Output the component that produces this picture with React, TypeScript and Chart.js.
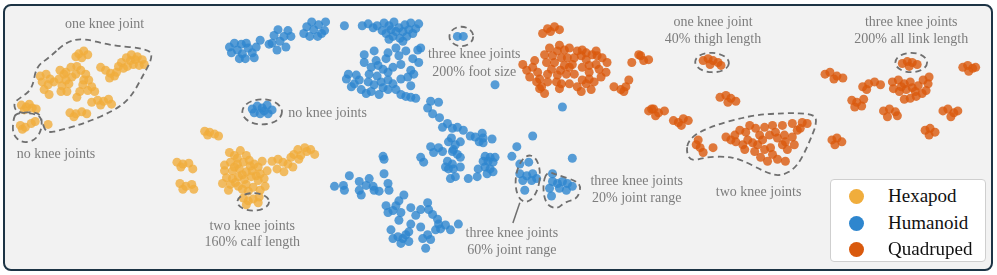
import React, { useEffect, useRef } from "react";
import { Chart, registerables } from "chart.js";

Chart.register(...registerables);

// t-SNE embedding coordinates (x: 0..997 left→right, y: 0..275 top→bottom)
const hexapod: [number, number][] = [
  [75, 51], [80, 48], [84, 52], [78, 55], [72, 54],
  [118, 60], [123, 55], [128, 52], [134, 54], [139, 57], [136, 63], [130, 62], [124, 64], [115, 64], [127, 58], [141, 62], [120, 66], [132, 57],
  [97, 65], [102, 68], [107, 71], [111, 74], [113, 70], [106, 76],
  [36, 74], [42, 72], [46, 77], [38, 80], [44, 83], [40, 88], [45, 93], [50, 80],
  [56, 68], [60, 72], [55, 77], [62, 78], [58, 84], [65, 82], [57, 90], [63, 90], [68, 75], [62, 70],
  [67, 65], [73, 64], [77, 68], [72, 72],
  [82, 72], [85, 78], [79, 83], [88, 85], [84, 89], [76, 90], [73, 96], [91, 90], [80, 78],
  [88, 101], [94, 99], [100, 100], [105, 98], [108, 103], [97, 104],
  [66, 112], [72, 113], [78, 111], [83, 113], [70, 116],
  [17, 104], [22, 106], [28, 107], [32, 108], [20, 109], [25, 103],
  [16, 125], [21, 127], [27, 123], [31, 121], [18, 129], [44, 124],
  [202, 131], [207, 132], [212, 134], [216, 136], [205, 135],
  [174, 163], [180, 165], [186, 164], [190, 170], [178, 168],
  [177, 185], [183, 188], [189, 186], [191, 191], [180, 191],
  [227, 153], [232, 156], [238, 151], [244, 156], [235, 159],
  [222, 166], [228, 163], [235, 165], [241, 163], [247, 161], [252, 165], [256, 168],
  [222, 172], [230, 172], [237, 170], [244, 173], [250, 172], [258, 175],
  [224, 179], [230, 180], [236, 178], [242, 181], [249, 178], [256, 182], [262, 180],
  [228, 186], [236, 188], [244, 186], [251, 189], [258, 192], [226, 192], [246, 193], [263, 188],
  [232, 168], [240, 176], [248, 167], [254, 177], [220, 185], [233, 184], [240, 191], [265, 172],
  [270, 162], [276, 160], [281, 163], [286, 165], [289, 158], [275, 170], [282, 173],
  [292, 155], [297, 160], [296, 150], [303, 148], [309, 150], [313, 155], [305, 152], [299, 156], [291, 168], [260, 162],
  [241, 200], [246, 203], [251, 201], [256, 205], [244, 207], [257, 199],
];

const humanoid: [number, number][] = [
  [227, 44], [232, 40], [239, 41], [244, 40], [229, 50], [235, 47], [240, 51], [246, 45], [250, 50], [252, 55], [237, 56], [243, 56], [254, 44],
  [258, 37],
  [267, 41], [272, 32], [276, 26], [278, 38], [282, 33], [286, 27], [284, 44], [275, 47], [270, 40], [289, 33],
  [302, 30], [305, 23], [310, 18], [312, 26], [317, 21], [320, 30], [323, 27], [316, 33], [324, 18], [308, 33],
  [343, 22],
  [361, 22], [367, 20], [372, 24], [383, 19], [388, 22], [393, 18], [398, 24], [404, 21], [410, 19], [415, 25],
  [385, 30], [392, 33], [399, 35], [406, 33], [412, 30], [381, 27], [395, 28],
  [376, 22], [390, 26], [402, 28], [408, 26], [418, 20], [388, 36], [402, 38],
  [373, 48], [387, 50], [398, 53], [417, 47], [420, 45], [363, 60], [370, 65], [377, 63], [382, 67], [387, 70],
  [392, 65], [400, 62], [410, 68], [413, 72], [347, 72], [355, 73], [345, 77], [353, 82], [358, 78], [367, 80],
  [373, 83], [380, 80], [387, 78], [392, 82], [400, 77], [407, 75], [360, 88], [370, 90], [378, 93], [387, 88],
  [400, 93], [405, 95], [415, 97], [350, 85], [365, 92], [410, 96],
  [375, 58], [385, 56], [395, 45], [405, 48], [412, 56], [418, 60], [368, 72], [376, 74], [395, 88], [382, 86], [410, 84], [363, 52],
  [430, 100], [438, 101], [427, 107], [432, 113], [439, 117], [442, 127], [447, 123], [452, 128], [457, 127],
  [463, 130], [470, 136], [475, 137], [482, 133], [483, 138], [492, 139], [479, 142], [483, 143],
  [430, 147], [438, 148], [448, 142], [451, 138], [455, 145], [460, 142], [433, 153], [442, 152], [453, 150],
  [457, 155], [452, 152], [460, 158], [420, 158], [423, 163], [447, 162], [452, 165], [453, 170], [448, 170],
  [445, 168], [460, 168], [450, 180], [455, 178], [468, 180], [477, 178],
  [485, 157], [490, 158], [495, 158], [483, 162], [488, 162], [493, 163], [478, 170], [485, 168], [490, 170], [493, 173], [487, 175],
  [512, 157], [517, 147], [533, 136], [495, 83], [563, 106], [573, 159],
  [457, 33], [463, 33],
  [333, 188], [342, 187], [343, 192], [348, 177], [358, 183], [358, 192], [360, 197], [365, 187], [368, 180],
  [372, 188], [373, 192], [378, 193], [383, 175], [387, 185], [388, 192], [382, 157], [383, 160],
  [403, 197], [398, 203], [395, 208], [385, 208], [387, 215], [392, 213], [400, 215], [398, 223], [410, 210],
  [415, 218], [420, 212], [427, 205], [428, 212], [432, 217], [437, 222], [438, 227], [435, 233], [440, 232],
  [445, 228], [450, 233], [458, 227], [420, 230], [427, 238], [422, 242], [430, 243], [390, 233], [397, 240],
  [402, 242], [405, 238], [408, 245], [400, 247], [392, 242], [425, 252], [408, 235], [410, 227],
  [250, 108], [255, 105], [260, 107], [265, 104], [270, 109], [258, 113], [266, 113], [252, 112], [262, 110],
  [520, 165], [529, 163], [520, 175], [527, 177], [533, 175], [523, 182], [532, 182], [537, 180], [525, 192],
  [553, 175], [553, 183], [558, 185], [563, 183], [568, 185], [573, 188], [550, 190], [560, 190], [552, 198], [567, 192],
];

const quadruped: [number, number][] = [
  [543, 30], [548, 25], [555, 23], [560, 26], [551, 28],
  [523, 62], [527, 68], [530, 75], [540, 77], [542, 85], [550, 45], [545, 52], [553, 53], [558, 48], [565, 47],
  [547, 60], [555, 60], [562, 55], [565, 63], [548, 72], [558, 73], [567, 72], [557, 80], [562, 82], [570, 82],
  [560, 87], [540, 87], [573, 62], [578, 48], [583, 47], [582, 53], [587, 57], [583, 65], [590, 63], [597, 48],
  [598, 53], [608, 60], [597, 62], [607, 70], [583, 78], [590, 77], [595, 80], [587, 82], [582, 90], [533, 65],
  [537, 80], [570, 65], [575, 72],
  [535, 58], [538, 70], [552, 67], [561, 68], [568, 55], [575, 55], [590, 70], [600, 67], [602, 75], [578, 85],
  [548, 80], [545, 92], [592, 88], [560, 42], [570, 45], [587, 50], [593, 52], [603, 55],
  [633, 60], [642, 53], [645, 58], [615, 85], [622, 88], [627, 85], [630, 78], [625, 90],
  [640, 52], [650, 57], [653, 108],
  [705, 58], [710, 56], [715, 58], [720, 60], [712, 62], [723, 63],
  [722, 96], [728, 94], [733, 97], [738, 100], [730, 101],
  [650, 110], [655, 108], [660, 112], [666, 110], [657, 115],
  [675, 120], [680, 122], [685, 118], [690, 120], [683, 125],
  [698, 145], [702, 148], [705, 153], [715, 148], [728, 137], [737, 135], [738, 142], [748, 132], [750, 140],
  [758, 128], [755, 143], [747, 150], [757, 152], [765, 140], [767, 150], [773, 148], [770, 162], [780, 160],
  [788, 162], [778, 132], [780, 138], [787, 135], [788, 142], [795, 137], [797, 145], [785, 125], [795, 123],
  [805, 122], [810, 123], [803, 128], [767, 127], [775, 125], [762, 135],
  [733, 140], [742, 130], [752, 125], [760, 145], [772, 135], [775, 155], [790, 150], [800, 130], [785, 145], [763, 158], [745, 145], [700, 140],
  [835, 140], [840, 138], [845, 142], [838, 145],
  [828, 72], [833, 70], [840, 74], [846, 76], [837, 77],
  [855, 99], [860, 101], [865, 105], [858, 106], [867, 98],
  [866, 85], [872, 82], [878, 80], [884, 83], [870, 88],
  [887, 110], [893, 108], [899, 111], [891, 116], [901, 115],
  [896, 80], [902, 78], [908, 82], [914, 80], [897, 87], [903, 90], [910, 88], [916, 86], [922, 84],
  [927, 78], [932, 82], [920, 95], [914, 97], [926, 92], [908, 98], [933, 75], [930, 89], [905, 85], [919, 90],
  [906, 61], [911, 59], [916, 60], [921, 62], [913, 64],
  [947, 110], [952, 108], [958, 112], [955, 116], [962, 110],
  [929, 130], [934, 128], [939, 132], [933, 135],
  [967, 65], [972, 63], [977, 66], [973, 69], [980, 65],
];

const seriesNames = ["Hexapod", "Humanoid", "Quadruped"];
const seriesColors = ["#F0AD3C", "#2E86CE", "#D9590D"];
const seriesFill = ["rgba(240,173,60,0.8)", "rgba(46,134,206,0.8)", "rgba(217,89,13,0.8)"];

// annotation labels: [x, y, text]
const labels: [number, number, string][] = [
  [101, 20, "one knee joint"],
  [52, 155, "no knee joints"],
  [326, 113, "no knee joints"],
  [250, 229, "two knee joints"],
  [250, 246, "160% calf length"],
  [474, 52, "three knee joints"],
  [474, 70, "200% foot size"],
  [512, 237, "three knee joints"],
  [512, 254, "60% joint range"],
  [638, 183, "three knee joints"],
  [638, 200, "20% joint range"],
  [715, 18, "one knee joint"],
  [715, 36, "40% thigh length"],
  [915, 18, "three knee joints"],
  [915, 36, "200% all link length"],
  [761, 194, "two knee joints"],
];

// ellipse outlines: [cx, cy, rx, ry, rotation]
const ellipses: [number, number, number, number, number][] = [
  [260, 111, 20, 13, 0],
  [251, 204, 16, 9, 0],
  [461, 33, 12, 10, 0],
  [528, 180, 12, 24, 0.12],
  [714, 60, 17, 10, 0.05],
  [915, 60, 16, 10, 0],
];

// free-form outlines
const hulls: [number, number][][] = [
  [[63, 38], [80, 35], [105, 42], [147, 46], [149, 56], [140, 73], [127, 97], [110, 110], [83, 122], [57, 130], [42, 133], [38, 121], [34, 113], [12, 112], [9, 102], [15, 97], [28, 88], [32, 64], [45, 55]],
  [[12, 112], [33, 111], [38, 118], [37, 131], [30, 141], [17, 143], [8, 134], [9, 118]],
  [[547, 172], [560, 177], [576, 182], [582, 188], [578, 201], [566, 204], [557, 212], [546, 206], [543, 188]],
  [[690, 140], [707, 128], [750, 115], [787, 112], [817, 113], [820, 122], [812, 143], [800, 168], [783, 178], [767, 173], [743, 160], [727, 157], [707, 158], [693, 162], [688, 153]],
];

const leader: [number, number][] = [[520, 205], [513, 226]];

const annotationPlugin = {
  id: "annotations",
  afterDatasetsDraw(chart: any) {
    const { ctx, scales } = chart;
    const X = (v: number) => scales.x.getPixelForValue(v);
    const Y = (v: number) => scales.y.getPixelForValue(v);
    ctx.save();
    ctx.strokeStyle = "#6f6f6f";
    ctx.lineWidth = 1.8;
    ctx.setLineDash([6, 4]);
    for (const [cx, cy, rx, ry, rot] of ellipses) {
      ctx.beginPath();
      ctx.ellipse(X(cx), Y(cy), Math.abs(X(cx + rx) - X(cx)), Math.abs(Y(cy + ry) - Y(cy)), rot, 0, Math.PI * 2);
      ctx.stroke();
    }
    for (const pts of hulls) {
      const p = pts.map(([x, y]) => [X(x), Y(y)]);
      const n = p.length;
      const mid = (a: number[], b: number[]) => [(a[0] + b[0]) / 2, (a[1] + b[1]) / 2];
      ctx.beginPath();
      const m0 = mid(p[n - 1], p[0]);
      ctx.moveTo(m0[0], m0[1]);
      for (let i = 0; i < n; i++) {
        const m = mid(p[i], p[(i + 1) % n]);
        ctx.quadraticCurveTo(p[i][0], p[i][1], m[0], m[1]);
      }
      ctx.closePath();
      ctx.stroke();
    }
    ctx.setLineDash([]);
    ctx.lineWidth = 1.5;
    ctx.beginPath();
    ctx.moveTo(X(leader[0][0]), Y(leader[0][1]));
    ctx.lineTo(X(leader[1][0]), Y(leader[1][1]));
    ctx.stroke();

    ctx.fillStyle = "#7d7d7d";
    ctx.font = '14px "Liberation Serif", serif';
    ctx.textBaseline = "middle";
    for (const [x, y, t] of labels) {
      ctx.textAlign = "center";
      ctx.fillText(t, X(x), Y(y));
    }
    ctx.restore();
  },
};

export default function App() {
  const ref = useRef<HTMLCanvasElement | null>(null);
  useEffect(() => {
    if (!ref.current) return;
    const all = [hexapod, humanoid, quadruped];
    const chart = new Chart(ref.current, {
      type: "scatter",
      data: {
        datasets: all.map((pts, i) => ({
          label: seriesNames[i],
          data: pts.map(([x, y]) => ({ x, y })),
          backgroundColor: seriesFill[i],
          borderWidth: 0,
          pointRadius: 4.5,
          pointHoverRadius: 4.5,
        })),
      },
      options: {
        responsive: false,
        animation: false,
        devicePixelRatio: 1,
        layout: { padding: 0 },
        plugins: { legend: { display: false }, tooltip: { enabled: false } },
        scales: {
          x: { type: "linear", min: 0, max: 997, display: false },
          y: { type: "linear", min: 0, max: 275, reverse: true, display: false },
        },
      },
      plugins: [annotationPlugin],
    });
    return () => chart.destroy();
  }, []);

  return (
    <div style={{ position: "fixed", left: 0, top: 0, width: 997, height: 275, background: "#ffffff" }}>
      <div
        style={{
          position: "absolute",
          left: 3,
          top: 4,
          width: 986,
          height: 263,
          border: "2px solid #1d3445",
          borderRadius: 8,
          background: "#f2f2f2",
        }}
      />
      <canvas ref={ref} width={997} height={275} style={{ position: "absolute", left: 0, top: 0 }} />
      <div
        style={{
          position: "absolute",
          left: 830,
          top: 179,
          width: 154,
          height: 81,
          background: "#ffffff",
          border: "1px solid #cfcfcf",
          borderRadius: 4,
          fontFamily: '"Liberation Serif", serif',
          fontSize: 19,
          color: "#111",
        }}
      >
        {seriesNames.map((n, i) => (
          <div key={n} style={{ position: "absolute", left: 0, top: 3 + i * 26.5, height: 26, width: 154 }}>
            <div
              style={{
                position: "absolute",
                left: 18,
                top: 6,
                width: 15,
                height: 15,
                borderRadius: "50%",
                background: seriesColors[i],
              }}
            />
            <div style={{ position: "absolute", left: 57, top: 1, lineHeight: "24px" }}>{n}</div>
          </div>
        ))}
      </div>
    </div>
  );
}
